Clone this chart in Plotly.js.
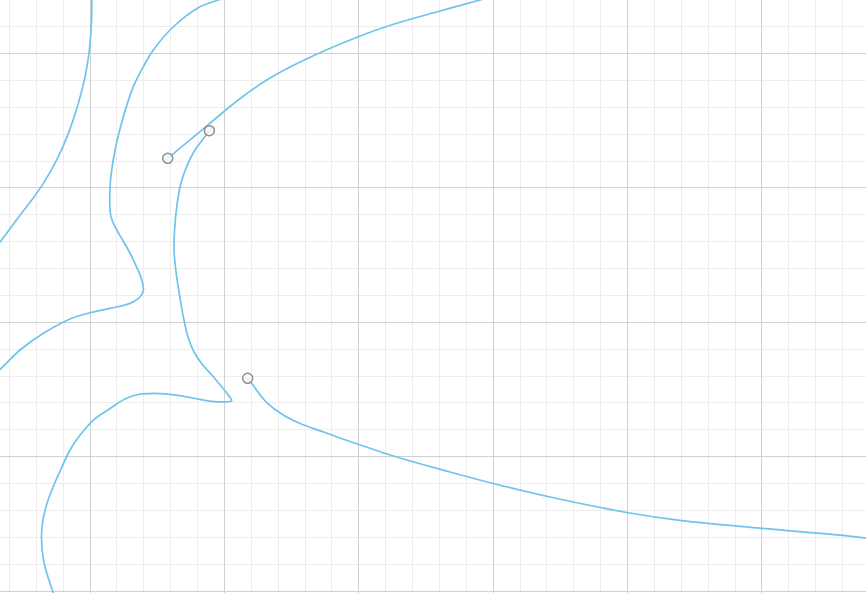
<!DOCTYPE html>
<html>
<head>
<meta charset="utf-8">
<script src="https://cdn.plot.ly/plotly-3.0.1.min.js"></script>
<style>html,body{margin:0;padding:0;background:#fff;}#chart{width:866px;height:593px;}</style>
</head>
<body>
<div id="chart"></div>
<script>
// Streamline-like curves (data units: one major grid cell = 1)
const curveA_x = [0.578, 0.885, 1.103, 1.315, 1.563, 1.996, 2.282, 2.604, 2.902, 3.125];
const curveA_y = [3.220, 3.475, 3.654, 3.803, 3.937, 4.125, 4.225, 4.316, 4.398, 4.458];

const curveB_x = [0.888, 0.833, 0.781, 0.737, 0.703, 0.673, 0.647, 0.629, 0.625, 0.640, 0.666, 0.696, 0.729, 0.774, 0.833, 0.900, 0.975, 1.034, 1.054, 0.997, 0.893, 0.781, 0.670, 0.558, 0.446, 0.357, 0.260, 0.149, 0.025, -0.074, -0.149, -0.216, -0.275, -0.324, -0.353, -0.361, -0.346, -0.313, -0.273, -0.253];
const curveB_y = [3.426, 3.353, 3.282, 3.200, 3.118, 3.022, 2.873, 2.687, 2.538, 2.374, 2.203, 2.032, 1.891, 1.779, 1.690, 1.615, 1.526, 1.452, 1.418, 1.408, 1.414, 1.433, 1.455, 1.468, 1.470, 1.463, 1.429, 1.359, 1.273, 1.161, 1.050, 0.908, 0.775, 0.641, 0.514, 0.380, 0.231, 0.105, -0.014, -0.066];

const curveC_x = [1.173, 1.203, 1.250, 1.315, 1.438, 1.563, 1.749, 1.935, 2.307, 2.679, 2.999, 3.423, 4.005, 4.403, 5.002, 5.605, 5.804];
const curveC_y = [1.583, 1.546, 1.481, 1.403, 1.310, 1.247, 1.180, 1.113, 0.990, 0.886, 0.801, 0.700, 0.583, 0.524, 0.467, 0.414, 0.391];

const curveD_x = [0.013, 0.011, -0.005, -0.037, -0.087, -0.161, -0.248, -0.347, -0.434, -0.517, -0.670, -0.707];
const curveD_y = [4.435, 4.249, 4.026, 3.827, 3.629, 3.406, 3.208, 3.034, 2.910, 2.802, 2.597, 2.553];

const curveE_x = [1.027, 0.955, 0.818, 0.620, 0.471, 0.397, 0.322, 0.248, 0.186, 0.149, 0.156, 0.199, 0.285, 0.347, 0.385, 0.397, 0.372, 0.298, 0.149, 0.000, -0.149, -0.347, -0.521, -0.670, -0.707];
const curveE_y = [4.428, 4.398, 4.348, 4.199, 4.026, 3.902, 3.753, 3.530, 3.282, 3.009, 2.786, 2.687, 2.538, 2.411, 2.315, 2.240, 2.188, 2.141, 2.104, 2.071, 2.025, 1.918, 1.794, 1.650, 1.623];

const lineColor = 'rgb(110,196,234)';
const lineStyle = {color: lineColor, width: 1.7, shape: 'spline', smoothing: 1};

function lineTrace(x, y) {
  return {type: 'scatter', mode: 'lines', x: x, y: y, line: lineStyle, hoverinfo: 'skip', cliponaxis: true};
}

const starts = [[curveA_x, curveA_y], [curveB_x, curveB_y], [curveC_x, curveC_y]];

const traces = [
  lineTrace(curveA_x, curveA_y),
  lineTrace(curveB_x, curveB_y),
  lineTrace(curveC_x, curveC_y),
  lineTrace(curveD_x, curveD_y),
  lineTrace(curveE_x, curveE_y),
  {
    type: 'scatter', mode: 'markers',
    x: starts.map(s => s[0][0]), y: starts.map(s => s[1][0]),
    marker: {symbol: 'circle', size: 10, color: 'rgba(245,248,250,0.85)', line: {color: '#8f8f8f', width: 1.5}},
    hoverinfo: 'skip'
  }
];

const axisBase = {
  showticklabels: false, ticks: '', zeroline: false, showline: false,
  dtick: 1, tick0: 0, gridcolor: '#d0d0d0', gridwidth: 1,
  minor: {dtick: 0.2, tick0: 0, showgrid: true, gridcolor: '#ededed', gridwidth: 1},
  fixedrange: true
};

const layout = {
  width: 866, height: 593,
  margin: {l: 0, r: 0, t: 0, b: 0, pad: 0},
  paper_bgcolor: '#ffffff', plot_bgcolor: '#ffffff',
  showlegend: false,
  xaxis: Object.assign({}, axisBase, {range: [-0.670, 5.774]}),
  yaxis: Object.assign({}, axisBase, {range: [-0.014, 4.398]})
};

Plotly.newPlot('chart', traces, layout, {staticPlot: true, displayModeBar: false});
</script>
</body>
</html>
